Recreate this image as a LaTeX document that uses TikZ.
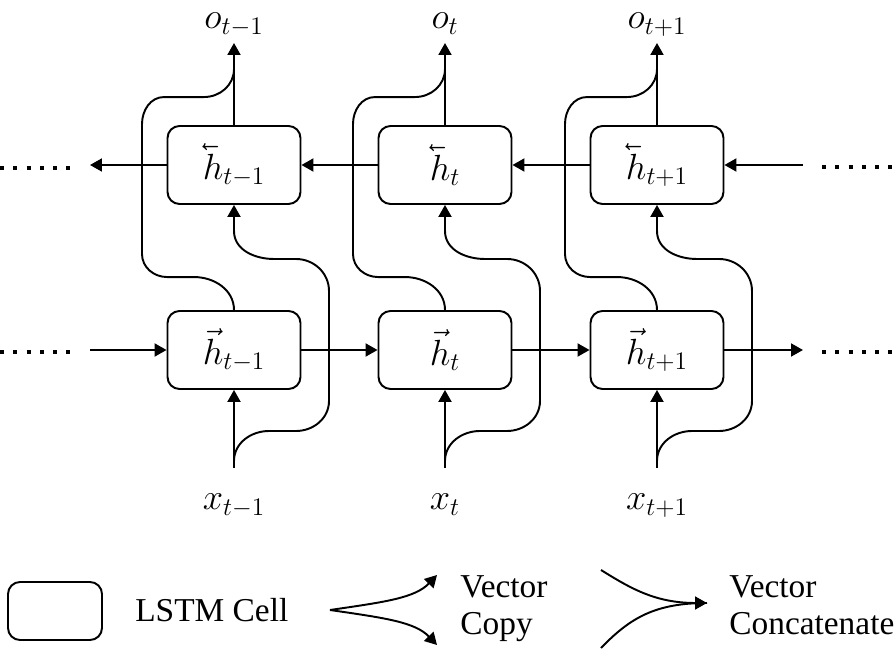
\documentclass[tikz,border=0pt]{standalone}
\usepackage[no-math]{fontspec}
\setmainfont{Liberation Serif}
\usetikzlibrary{arrows.meta}
\tikzstyle{cell}=[rectangle, rounded corners=0.24cm, draw=black, line width=1.1pt, minimum width=2.66cm, minimum height=1.56cm, inner sep=0pt, anchor=center, font=\fontsize{22}{26}\selectfont]
\tikzstyle{wire}=[line width=1.1pt]
\tikzstyle{arr}=[wire, -{Triangle[length=0.24cm,width=0.26cm]}]
\tikzstyle{mlbl}=[inner sep=0pt, anchor=base, font=\fontsize{21}{24}\selectfont]
\tikzstyle{annot}=[inner sep=0pt, anchor=base west, font=\fontsize{19}{22}\selectfont]
\tikzstyle{dots}=[line width=0.08cm, dash pattern=on 0.08cm off 0.186cm]
% left pointing vector accent
\newcommand{\lvec}[1]{\reflectbox{$\vec{\reflectbox{$#1$}}$}}
\newcommand{\drawbranches}[1]
{
  % copy x into the backward cell
  \draw[arr] (in#1) -- ++(0,7) to[out=90,in=180] ++(35,30) -- ++(27,0) to[out=0,in=-90] ++(33,30) -- ++(0,110) to[out=90,in=0] ++(-33,32) -- ++(-22,0) to[out=180,in=-90] ++(-40,28) -- (bw#1.south);
  % concat forward state into the output
  \draw[wire] (fw#1.north) to[out=90,in=0] ++(-40,33) -- ++(-27,0) to[out=180,in=-90] ++(-25,23) -- ++(0,130) to[out=90,in=180] ++(22,27) -- ++(40,0) to[out=0,in=-90] ++(30,28);
}

\begin{document}
\begin{tikzpicture}[x=0.02cm, y=0.02cm]
	\useasboundingbox (0,0) rectangle (894,650);

	\node[cell](bw1) at (234,485){$\lvec{h}_{t-1}$};
	\node[cell](bw2) at (445,485){$\lvec{h}_{t}$};
	\node[cell](bw3) at (657,485){$\lvec{h}_{t+1}$};
	\node[cell](fw1) at (234,300){$\vec{h}_{t-1}$};
	\node[cell](fw2) at (445,300){$\vec{h}_{t}$};
	\node[cell](fw3) at (657,300){$\vec{h}_{t+1}$};

	\coordinate (out1) at (234,607);
	\coordinate (out2) at (445,607);
	\coordinate (out3) at (657,607);
	\coordinate (in1) at (234,182);
	\coordinate (in2) at (445,182);
	\coordinate (in3) at (657,182);
	\node[mlbl](o1) at (234,621){$o_{t-1}$};
	\node[mlbl](o2) at (445,621){$o_{t}$};
	\node[mlbl](o3) at (657,621){$o_{t+1}$};
	\node[mlbl](x1) at (234,140){$x_{t-1}$};
	\node[mlbl](x2) at (445,140){$x_{t}$};
	\node[mlbl](x3) at (657,140){$x_{t+1}$};

	\draw[arr] (bw1.north) -- (out1);
	\draw[arr] (bw2.north) -- (out2);
	\draw[arr] (bw3.north) -- (out3);
	\draw[arr] (in1) -- (fw1.south);
	\draw[arr] (in2) -- (fw2.south);
	\draw[arr] (in3) -- (fw3.south);

	\drawbranches{1}
	\drawbranches{2}
	\drawbranches{3}

	% backward row
	\coordinate (lt) at (90,485);
	\coordinate (rt) at (803,485);
	\draw[arr] (rt) -- (bw3.east);
	\draw[arr] (bw3.west) -- (bw2.east);
	\draw[arr] (bw2.west) -- (bw1.east);
	\draw[arr] (bw1.west) -- (lt);
	% forward row
	\coordinate (lb) at (90,300);
	\coordinate (rb) at (803,300);
	\draw[arr] (lb) -- (fw1.west);
	\draw[arr] (fw1.east) -- (fw2.west);
	\draw[arr] (fw2.east) -- (fw3.west);
	\draw[arr] (fw3.east) -- (rb);

	\draw[dots] (0,482) -- (70,482);
	\draw[dots] (822,483) -- (894,483);
	\draw[dots] (0,298) -- (70,298);
	\draw[dots] (822,298) -- (894,298);

	% legend
	\node[cell, minimum width=1.88cm, minimum height=1.16cm](lstm) at (55,39){};
	\node[annot](lstmtxt) at (135,28){LSTM Cell};

	\coordinate (cpsrc) at (330,40);
	\coordinate (cpup) at (437,75);
	\coordinate (cpdn) at (437,5);
	\draw[arr] (cpsrc) .. controls (385,48) and (415,52) .. (cpup);
	\draw[arr] (cpsrc) .. controls (385,32) and (415,28) .. (cpdn);
	\node[annot](cpytxt1) at (460,52){Vector};
	\node[annot](cpytxt2) at (460,15){Copy};

	\coordinate (ccup) at (601,80);
	\coordinate (ccdn) at (601,2);
	\coordinate (cctip) at (707,47);
	\draw[wire] (ccdn) .. controls (630,32) and (655,47) .. (cctip);
	\draw[arr] (ccup) .. controls (630,62) and (655,47) .. (cctip);
	\node[annot](cattxt1) at (729,52){Vector};
	\node[annot](cattxt2) at (729,15){Concatenate};

\end{tikzpicture}
\end{document}
